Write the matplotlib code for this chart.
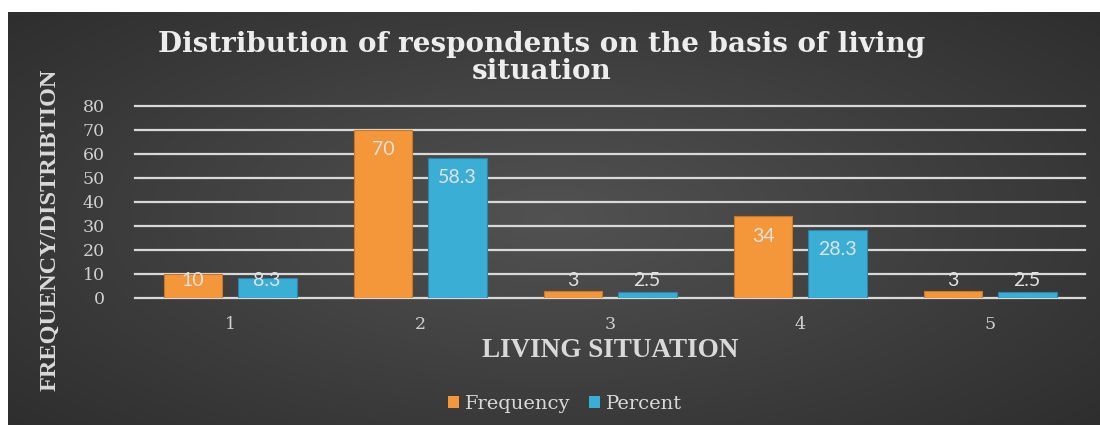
import numpy as np
import matplotlib
matplotlib.use("Agg")
import matplotlib.pyplot as plt
from matplotlib.patches import Patch

categories = ["1", "2", "3", "4", "5"]
frequency = [10, 70, 3, 34, 3]
percent = [8.3, 58.3, 2.5, 28.3, 2.5]
freq_labels = ["10", "70", "3", "34", "3"]
pct_labels = ["8.3", "58.3", "2.5", "28.3", "2.5"]
yticks = [0, 10, 20, 30, 40, 50, 60, 70, 80]

title = "Distribution of respondents on the basis of living\nsituation"
xlabel = "LIVING SITUATION"
ylabel = "FREQUENCY/DISTRIBTION"

W, H = 1100, 425
fig = plt.figure(figsize=(W / 100, H / 100), dpi=100, facecolor="white")

# dark gradient background panel
bg = fig.add_axes([8 / W, 0, 1 - 8 / W, 1 - 12 / H])
bg.set_axis_off()
yy, xx = np.mgrid[-1:1:200j, -1:1:500j]
r = np.sqrt((xx * 0.9) ** 2 + (yy * 0.8) ** 2)
val = 0.32 - 0.15 * np.clip(r, 0, 1.3) / 1.3
bg.imshow(np.dstack([val, val, val]), aspect="auto", extent=[0, 1, 0, 1])
bg.set_xlim(0, 1)
bg.set_ylim(0, 1)

# main plot area
left, right = 135 / W, 1085 / W
y0_px, y80_px = 297.7, 105.7
bottom = (H - y0_px) / H
height = (y0_px - y80_px) / H * (81 / 80)
ax = fig.add_axes([left, bottom, right - left, height])
ax.set_facecolor("none")
ax.set_xlim(-0.5, 4.5)
ax.set_ylim(0, 81)

x = np.arange(len(categories))
bw = 0.31
off = 0.195
orange = "#F4973A"
blue = "#3AAED5"
ax.bar(x - off, frequency, bw, color=orange, edgecolor="#C9762A", linewidth=0.8, zorder=3)
ax.bar(x + off, percent, bw, color=blue, edgecolor="#2A86A8", linewidth=0.8, zorder=3)

for xi, v, lab in zip(x - off, frequency, freq_labels):
    ax.text(xi, max(v - 8.3, 7.3), lab, ha="center", va="center", fontsize=14,
            family="Lato", color="#E2E2E2", zorder=4)
for xi, v, lab in zip(x + off, percent, pct_labels):
    ax.text(xi, max(v - 8.3, 7.3), lab, ha="center", va="center", fontsize=14,
            family="Lato", color="#E2E2E2", zorder=4)

for t in yticks:
    ax.axhline(t, color="#D9D9D9", lw=1.6, zorder=2, clip_on=False)

ax.set_yticks(yticks)
ax.set_yticklabels([str(t) for t in yticks], family="DejaVu Serif", fontsize=12.5, color="#CFCFCF")
ax.set_xticks(x)
ax.set_xticklabels(categories, family="DejaVu Serif", fontsize=12.5, color="#CFCFCF")
ax.tick_params(axis="y", length=0, pad=22)
ax.tick_params(axis="x", length=0, pad=13)
for s in ax.spines.values():
    s.set_visible(False)

ax.set_xlabel(xlabel, family="Liberation Serif", fontweight="bold", fontsize=19.5,
              color="#D9D9D9", labelpad=4)

fig.text(50 / W, 1 - 230 / H, ylabel, rotation=90, ha="center", va="center",
         family="Liberation Serif", fontweight="bold", fontsize=17.5, color="#D9D9D9")

fig.text(542 / W, 1 - 58 / H, title, ha="center", va="center", family="DejaVu Serif",
         fontweight="bold", fontsize=20, color="#EDEDED", linespacing=1.0)

handles = [Patch(facecolor=orange, edgecolor="none"), Patch(facecolor=blue, edgecolor="none")]
leg = fig.legend(handles, ["Frequency", "Percent"], loc="center", bbox_to_anchor=(565 / W, 1 - 404 / H),
                 ncol=2, frameon=False, handlelength=0.55, handleheight=0.55, handletextpad=0.3,
                 columnspacing=1.0, prop={"family": "DejaVu Serif", "size": 14})
for t in leg.get_texts():
    t.set_color("#D9D9D9")

fig.savefig("out.png", dpi=100, facecolor="white")
